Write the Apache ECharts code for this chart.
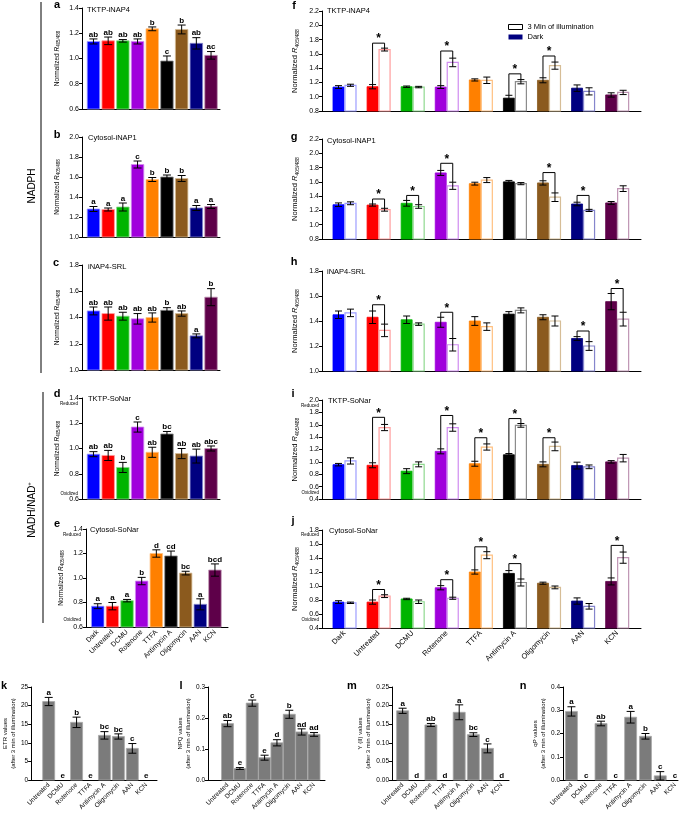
<!DOCTYPE html>
<html>
<head>
<meta charset="utf-8">
<script src="https://cdn.jsdelivr.net/npm/echarts@6/dist/echarts.min.js"></script>
<style>
html,body{margin:0;padding:0;background:#fff}
#chart{width:685px;height:817px}
</style>
</head>
<body>
<div id="chart"></div>
<script>
// categories
var treatments = ['Dark','Untreated','DCMU','Rotenone','TTFA','Antimycin A','Oligomycin','AAN','KCN'];
var photoTreatments = ['Untreated','DCMU','Rotenone','TTFA','Antimycin A','Oligomycin','AAN','KCN'];

var darkColors  = ['#0000ff','#ff0000','#00b400','#a000dc','#ff8000','#000000','#8b5a1e','#000080','#5e0049'];
var lightColors = ['#9d9dff','#ff9d9d','#8fd98f','#d08cf0','#ffc080','#8c8c8c','#d6bd96','#8585cc','#bf94b4'];

// a - TKTP-iNAP4 (dark)
var aMean = [1.135,1.14,1.14,1.135,1.235,0.98,1.23,1.12,1.025];
var aErr  = [0.02,0.03,0.01,0.02,0.015,0.04,0.035,0.045,0.03];
var aLetters = ['ab','ab','ab','ab','b','c','b','ab','ac'];
// b - Cytosol-iNAP1
var bMean = [1.28,1.275,1.30,1.725,1.575,1.60,1.585,1.29,1.305];
var bErr  = [0.025,0.015,0.04,0.035,0.02,0.02,0.03,0.025,0.02];
var bLetters = ['a','a','a','c','b','b','b','a','a'];
// c - iNAP4-SRL
var cMean = [1.45,1.43,1.41,1.39,1.40,1.455,1.43,1.26,1.555];
var cErr  = [0.03,0.05,0.03,0.04,0.035,0.02,0.02,0.015,0.065];
var cLetters = ['ab','ab','ab','ab','ab','b','ab','a','b'];
// d - TKTP-SoNar
var dMean = [0.955,0.945,0.85,1.17,0.97,1.115,0.96,0.94,1.00];
var dErr  = [0.02,0.04,0.04,0.04,0.04,0.02,0.04,0.055,0.02];
var dLetters = ['ab','ab','b','c','ab','bc','ab','ab','abc'];
// e - Cytosol-SoNar
var eMean = [0.77,0.77,0.815,0.975,1.20,1.18,1.04,0.785,1.065];
var eErr  = [0.02,0.03,0.01,0.03,0.03,0.04,0.015,0.045,0.05];
var eLetters = ['a','a','a','b','d','cd','bc','a','bcd'];

// f-j: after 3 min of illumination
var fLight = [1.16,1.66,1.135,1.48,1.23,1.21,1.435,1.075,1.06];
var fLightErr = [0.015,0.02,0.01,0.06,0.045,0.03,0.05,0.05,0.03];
var fSig = [[1,1.75],[3,1.64],[5,1.32],[6,1.57]];
var gLight = [1.30,1.21,1.255,1.545,1.625,1.575,1.385,1.20,1.505];
var gLightErr = [0.02,0.02,0.025,0.05,0.035,0.015,0.06,0.015,0.04];
var gSig = [[1,1.36],[2,1.41],[3,1.86],[6,1.73],[7,1.41]];
var hLight = [1.465,1.325,1.375,1.21,1.355,1.485,1.40,1.20,1.415];
var hLightErr = [0.03,0.05,0.01,0.05,0.03,0.02,0.04,0.035,0.055];
var hSig = [[1,1.53],[3,1.47],[7,1.32],[8,1.66]];
var iLight = [1.015,1.555,0.96,1.555,1.24,1.59,1.25,0.92,1.06];
var iLightErr = [0.05,0.05,0.04,0.06,0.05,0.03,0.07,0.03,0.06];
var iSig = [[1,1.72],[3,1.75],[4,1.39],[5,1.70],[6,1.39]];
var jLight = [0.76,0.855,0.775,0.825,1.44,1.05,0.98,0.71,1.405];
var jLightErr = [0.01,0.02,0.025,0.015,0.05,0.05,0.02,0.04,0.08];
var jSig = [[1,0.95],[3,1.09],[4,1.56],[5,1.32],[8,1.58]];

// k-n photosynthesis parameters
var etr = [21.1,0,15.5,0,12.0,11.7,8.5,0];
var etrErr = [1.1,0,1.4,0,1.0,0.7,1.3,0];
var etrLetters = ['a','e','b','e','bc','bc','c','e'];
var npq = [0.182,0.037,0.248,0.072,0.12,0.212,0.155,0.147];
var npqErr = [0.01,0.003,0.01,0.008,0.01,0.013,0.01,0.006];
var npqLetters = ['ab','e','c','e','d','b','ad','ad'];
var yII = [0.186,0,0.148,0,0.182,0.122,0.085,0];
var yIIErr = [0.007,0,0.004,0,0.02,0.005,0.012,0];
var yIILetters = ['a','d','ab','d','a','bc','c','d'];
var qP = [0.295,0,0.243,0,0.27,0.188,0.018,0];
var qPErr = [0.02,0,0.01,0,0.025,0.012,0.018,0];
var qPLetters = ['a','c','ab','c','a','b','c','c'];

var FONT = '"Liberation Sans", Arial, sans-serif';
var chart = echarts.init(document.getElementById('chart'));

var option = {
  animation: false,
  textStyle: {fontFamily: FONT},
  grid: [], xAxis: [], yAxis: [], series: [], graphic: [],
  legend: {
    left: 503, top: 18, orient: 'vertical', itemWidth: 14, itemHeight: 5, itemGap: 2,
    textStyle: {fontSize: 7.5, color: '#000', fontFamily: FONT}, selectedMode: false,
    data: [
      {name: '3 Min of illumination', icon: 'rect', itemStyle: {color: '#fff', borderColor: '#000', borderWidth: 1}},
      {name: 'Dark', icon: 'rect', itemStyle: {color: '#000080'}}
    ]
  }
};

function nameRich(size) {
  return {
    it: {fontStyle: 'italic', fontSize: size, fontFamily: FONT, color: '#000'},
    sub: {fontSize: size * 0.68, fontFamily: FONT, color: '#000', verticalAlign: 'bottom', padding: [size * 0.5, 0, 0, 0]}
  };
}

function addAxes(p) {
  var gi = option.grid.length;
  option.grid.push({left: p.left, top: p.top, width: p.width, height: p.height});
  var idx = p.cats.map(function (c, i) { return i; });
  option.xAxis.push({
    type: 'value', gridIndex: gi, min: p.xr[0], max: p.xr[1],
    axisLine: {show: true, onZero: false, lineStyle: {color: '#000', width: 1}},
    axisTick: {show: false}, splitLine: {show: false},
    axisLabel: p.showCats ? {
      show: true, customValues: idx, rotate: 45, fontSize: p.catSize || 7, color: '#000', margin: 4,
      formatter: function (v) { return p.cats[Math.round(v)]; }
    } : {show: false}
  });
  option.yAxis.push({
    type: 'value', gridIndex: gi, min: p.yMin, max: p.yMax, interval: p.step,
    axisLine: {show: true, onZero: false, lineStyle: {color: '#000', width: 1}},
    axisTick: {show: true, length: 3, lineStyle: {color: '#000'}},
    splitLine: {show: false},
    axisLabel: {fontSize: p.tickSize || 7, color: '#000', margin: 3,
      formatter: function (v) { return v.toFixed(p.dec); }},
    name: p.name, nameLocation: 'middle', nameGap: p.nameGap, nameRotate: 90,
    nameTextStyle: {fontSize: p.nameSize, color: '#000', lineHeight: p.nameSize + 2, rich: nameRich(p.nameSize), fontFamily: FONT}
  });
  return gi;
}

function barItem(o) {
  return function (params, api) {
    var i = api.value(0), v = api.value(1), e = api.value(2);
    var c = api.coord([i, v]);
    var b = api.coord([i, o.yMin]);
    var x = c[0] + (o.shift || 0);
    var kids = [];
    if (v > o.yMin) {
      kids.push({type: 'rect', shape: {x: x - o.w / 2, y: c[1], width: o.w, height: b[1] - c[1]},
        style: {fill: o.open ? '#fff' : o.fill[i], stroke: o.stroke[i], lineWidth: o.open ? 1.2 : 0.8}});
    }
    var hi = api.coord([i, v + e])[1];
    if (e > 0) {
      var lo = api.coord([i, v - e])[1];
      var ls = {stroke: '#000', lineWidth: 1};
      kids.push({type: 'line', shape: {x1: x, y1: hi, x2: x, y2: lo}, style: ls});
      kids.push({type: 'line', shape: {x1: x - o.cap, y1: hi, x2: x + o.cap, y2: hi}, style: ls});
      kids.push({type: 'line', shape: {x1: x - o.cap, y1: lo, x2: x + o.cap, y2: lo}, style: ls});
    }
    if (o.letters) {
      kids.push({type: 'text', x: x, y: hi - 0.5, style: {text: o.letters[i], fill: '#000',
        font: 'bold 8px ' + FONT, align: 'center', verticalAlign: 'bottom'}});
    }
    return {type: 'group', children: kids};
  };
}

function bracketItem(dm, de, lm, le, off) {
  return function (params, api) {
    var i = api.value(0), yb = api.value(1);
    var p = api.coord([i, yb]);
    var dTop = api.coord([i, dm[i] + de[i]])[1];
    var lTop = api.coord([i, lm[i] + le[i]])[1];
    var xl = p[0] - off, xr = p[0] + off;
    return {type: 'group', children: [
      {type: 'polyline', shape: {points: [[xl, dTop], [xl, p[1]], [xr, p[1]], [xr, lTop]]},
        style: {stroke: '#000', lineWidth: 1, fill: null}},
      {type: 'text', x: p[0], y: p[1] - 4, style: {text: '*', fill: '#000', font: 'bold 12px ' + FONT,
        align: 'center', verticalAlign: 'middle'}}
    ]};
  };
}

function toData(mean, err) {
  return mean.map(function (v, i) { return [i, v, err[i]]; });
}

var RLABEL = 'Normalized {it|R}{sub|405/488}';

// left panels a-e
var leftPanels = [
  {mean: aMean, err: aErr, letters: aLetters, yMin: 0.6, yMax: 1.4, left: 82, top: 8, width: 138, height: 101, xr: [-0.78, 8.61]},
  {mean: bMean, err: bErr, letters: bLetters, yMin: 1.0, yMax: 2.0, left: 82, top: 137, width: 138, height: 100, xr: [-0.78, 8.61]},
  {mean: cMean, err: cErr, letters: cLetters, yMin: 1.0, yMax: 1.8, left: 82, top: 265, width: 138, height: 105, xr: [-0.78, 8.61]},
  {mean: dMean, err: dErr, letters: dLetters, yMin: 0.6, yMax: 1.4, left: 82, top: 398, width: 138, height: 101, xr: [-0.78, 8.61]},
  {mean: eMean, err: eErr, letters: eLetters, yMin: 0.6, yMax: 1.4, left: 86, top: 529, width: 142, height: 98, xr: [-0.8, 8.89], showCats: true}
];
leftPanels.forEach(function (p) {
  p.cats = treatments; p.step = 0.2; p.dec = 1; p.name = RLABEL; p.nameGap = 21; p.nameSize = 6.5;
  var gi = addAxes(p);
  option.series.push({type: 'custom', xAxisIndex: gi, yAxisIndex: gi, silent: true, clip: false,
    data: toData(p.mean, p.err),
    renderItem: barItem({yMin: p.yMin, w: 12.5, cap: 4, fill: darkColors, stroke: lightColors, letters: p.letters})});
});

// right panels f-j
var rightPanels = [
  {dm: aMean, de: aErr, lm: fLight, le: fLightErr, sig: fSig, yMin: 0.8, yMax: 2.2, top: 11, height: 100, legend: true},
  {dm: bMean, de: bErr, lm: gLight, le: gLightErr, sig: gSig, yMin: 0.8, yMax: 2.2, top: 139, height: 100},
  {dm: cMean, de: cErr, lm: hLight, le: hLightErr, sig: hSig, yMin: 1.0, yMax: 1.8, top: 271, height: 100},
  {dm: dMean, de: dErr, lm: iLight, le: iLightErr, sig: iSig, yMin: 0.4, yMax: 2.0, top: 400, height: 99},
  {dm: eMean, de: eErr, lm: jLight, le: jLightErr, sig: jSig, yMin: 0.4, yMax: 1.8, top: 530, height: 98, showCats: true}
];
rightPanels.forEach(function (p) {
  p.cats = treatments; p.step = 0.2; p.dec = 1; p.name = RLABEL; p.nameGap = 22; p.nameSize = 7.5;
  p.left = 322; p.width = 319; p.xr = [-0.66, 8.7]; p.catSize = 7.5;
  var gi = addAxes(p);
  option.series.push({type: 'custom', name: p.legend ? 'Dark' : 'dark', xAxisIndex: gi, yAxisIndex: gi, silent: true, clip: false,
    data: toData(p.dm, p.de),
    renderItem: barItem({yMin: p.yMin, w: 11, shift: -6, cap: 3.5, fill: darkColors, stroke: darkColors})});
  option.series.push({type: 'custom', name: p.legend ? '3 Min of illumination' : 'light', xAxisIndex: gi, yAxisIndex: gi, silent: true, clip: false,
    data: toData(p.lm, p.le),
    renderItem: barItem({yMin: p.yMin, w: 11, shift: 6, cap: 3.5, open: true, stroke: lightColors})});
  option.series.push({type: 'custom', xAxisIndex: gi, yAxisIndex: gi, silent: true, clip: false,
    data: p.sig, renderItem: bracketItem(p.dm, p.de, p.lm, p.le, 6)});
});

// bottom panels k-n
var grayFill = photoTreatments.map(function () { return '#7b7b7b'; });
var grayStroke = photoTreatments.map(function () { return '#a8a8a8'; });
var bottomPanels = [
  {mean: etr, err: etrErr, letters: etrLetters, yMax: 25, step: 5, dec: 0, left: 28, width: 129, xr: [-1.26, 7.77], name: 'ETR values\n(after 3 min of illumination)', nameGap: 10},
  {mean: npq, err: npqErr, letters: npqLetters, yMax: 0.3, step: 0.1, dec: 1, left: 208, width: 117, xr: [-1.58, 7.89], name: 'NPQ values\n(after 3 min of illumination)', nameGap: 15},
  {mean: yII, err: yIIErr, letters: yIILetters, yMax: 0.25, step: 0.05, dec: 2, left: 392, width: 117, xr: [-0.75, 7.52], name: 'Y (II) values\n(after 3 min of illumination)', nameGap: 19},
  {mean: qP, err: qPErr, letters: qPLetters, yMax: 0.4, step: 0.1, dec: 1, left: 563, width: 115, xr: [-0.57, 7.2], name: 'qP values\n(after 3 min of illumination)', nameGap: 15}
];
bottomPanels.forEach(function (p) {
  p.cats = photoTreatments; p.yMin = 0; p.top = 687; p.height = 93; p.showCats = true;
  p.nameSize = 6; p.tickSize = 6.5; p.catSize = 6.5;
  var gi = addAxes(p);
  option.series.push({type: 'custom', xAxisIndex: gi, yAxisIndex: gi, silent: true, clip: false,
    data: toData(p.mean, p.err),
    renderItem: barItem({yMin: 0, w: 12, cap: 4, fill: grayFill, stroke: grayStroke, letters: p.letters})});
});

// titles, panel letters, side labels
function txt(x, y, s, font, align, rot) {
  option.graphic.push({type: 'text', x: x, y: y, rotation: rot || 0,
    style: {text: s, font: font, fill: '#000', align: align || 'left', verticalAlign: 'middle'}});
}
var titleFont = '7.5px ' + FONT;
[['TKTP-iNAP4', 87, 10], ['Cytosol-iNAP1', 88, 138], ['iNAP4-SRL', 88, 267], ['TKTP-SoNar', 88, 399], ['Cytosol-SoNar', 90, 530],
 ['TKTP-iNAP4', 327, 11], ['Cytosol-iNAP1', 327, 141], ['iNAP4-SRL', 327, 272], ['TKTP-SoNar', 328, 401], ['Cytosol-SoNar', 329, 531]
].forEach(function (t) { txt(t[1], t[2], t[0], titleFont); });

var letterFont = 'bold 11px ' + FONT;
[['a', 57, 5], ['b', 57, 135], ['c', 56, 263], ['d', 57, 394], ['e', 57, 524],
 ['f', 294, 6], ['g', 294, 137], ['h', 294, 262], ['i', 293, 394], ['j', 293, 521],
 ['k', 4, 686], ['l', 181, 686], ['m', 352, 686], ['n', 523, 686]
].forEach(function (t) { txt(t[1], t[2], t[0], letterFont, 'center'); });

var tinyFont = '4.5px ' + FONT;
[['Reduced', 78, 404], ['Oxidized', 78, 494], ['Reduced', 81, 535], ['Oxidized', 81, 620],
 ['Reduced', 319, 406], ['Oxidized', 319, 493], ['Reduced', 319, 535], ['Oxidized', 319, 620]
].forEach(function (t) { txt(t[1], t[2], t[0], tinyFont, 'right'); });

txt(32, 186, 'NADPH', '10px ' + FONT, 'center', Math.PI / 2);
option.graphic.push({type: 'text', x: 32, y: 510, rotation: Math.PI / 2,
  style: {text: 'NADH/NAD{s|+}', font: '10px ' + FONT, fill: '#000', align: 'center', verticalAlign: 'middle',
    rich: {s: {fontSize: 6, fontFamily: FONT, verticalAlign: 'top', padding: [0, 0, 5, 0]}}}});
option.graphic.push({type: 'line', shape: {x1: 41, y1: 2, x2: 41, y2: 373}, style: {stroke: '#000', lineWidth: 1}});
option.graphic.push({type: 'line', shape: {x1: 43, y1: 392, x2: 43, y2: 623}, style: {stroke: '#000', lineWidth: 1}});

chart.setOption(option);
</script>
</body>
</html>
